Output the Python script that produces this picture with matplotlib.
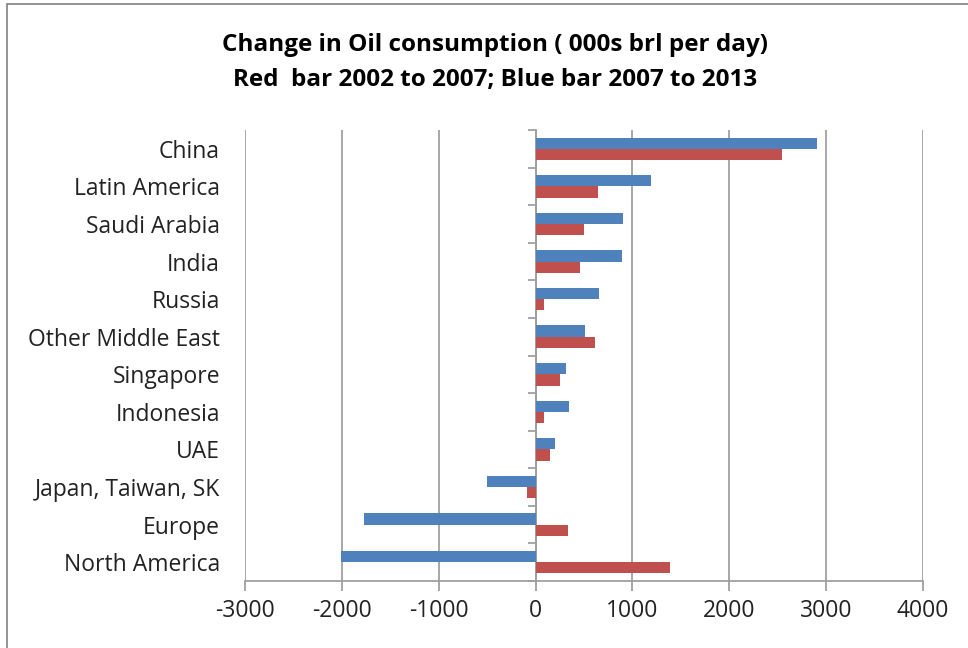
import matplotlib
matplotlib.use("Agg")
import matplotlib.pyplot as plt
from matplotlib.patches import Rectangle
import numpy as np

categories = ["China", "Latin America", "Saudi Arabia", "India", "Russia",
              "Other Middle East", "Singapore", "Indonesia", "UAE",
              "Japan, Taiwan, SK", "Europe", "North America"]
blue_2007_2013 = [2910, 1190, 905, 890, 660, 515, 315, 350, 205, -505, -1775, -2005]
red_2002_2007 = [2540, 645, 495, 462, 86, 612, 250, 86, 148, -93, 337, 1392]
xticks = [-3000, -2000, -1000, 0, 1000, 2000, 3000, 4000]
title_lines = ["Change in Oil consumption ( 000s brl per day)",
               "Red  bar 2002 to 2007; Blue bar 2007 to 2013"]

BLUE = "#4F81BD"
RED = "#C0504D"
GRID = "#A0A0A0"

plt.rcParams['font.family'] = ['Open Sans', 'DejaVu Sans']

fig = plt.figure(figsize=(9.68, 6.48), dpi=100)
W, H = 968, 648
left, right, top, bottom = 245, 923, 130, 581
ax = fig.add_axes([left / W, 1 - bottom / H, (right - left) / W, (bottom - top) / H])

y = np.arange(len(categories))
h = 0.30
ax.barh(y - h / 2, blue_2007_2013, height=h, color=BLUE, zorder=3)
ax.barh(y + h / 2, red_2002_2007, height=h, color=RED, zorder=3)

ax.set_xlim(xticks[0], xticks[-1])
ax.set_ylim(len(categories) - 0.5, -0.5)
ax.set_xticks(xticks)
ax.set_xticklabels([str(v) for v in xticks], fontsize=16.5, color="#222222")
ax.tick_params(axis='x', length=7, color=GRID, width=1.3, pad=6)
ax.grid(axis='x', color=GRID, linewidth=1.3, zorder=0)

ax.set_yticks(y)
ax.set_yticklabels(categories, fontsize=16.5, color="#222222")
ax.tick_params(axis='y', length=0, pad=18)

for s in ['top', 'right', 'left']:
    ax.spines[s].set_visible(False)
ax.spines['bottom'].set_color(GRID)
ax.spines['bottom'].set_linewidth(1.3)

# category axis at x = 0
loc = (0 - xticks[0]) / (xticks[-1] - xticks[0])
sec = ax.secondary_yaxis(loc)
sec.spines['left'].set_color(GRID)
sec.spines['left'].set_linewidth(1.3)
sec.set_yticks(np.arange(len(categories) + 1) - 0.5)
sec.set_yticklabels([])
sec.tick_params(axis='y', length=6, color=GRID, width=1.3)

fig.text(0.511, 1 - 45 / H, title_lines[0], ha='center', va='center',
         fontsize=17.5, fontweight='bold', color="#000000")
fig.text(0.511, 1 - 80 / H, title_lines[1], ha='center', va='center',
         fontsize=17.5, fontweight='bold', color="#000000")

fig.patches.append(Rectangle((7 / W, -0.1), 1.2, 1.1 - 4 / H, transform=fig.transFigure,
                             fill=False, edgecolor="#8A8A8A", linewidth=1.3))

fig.savefig("out.png", dpi=100)
